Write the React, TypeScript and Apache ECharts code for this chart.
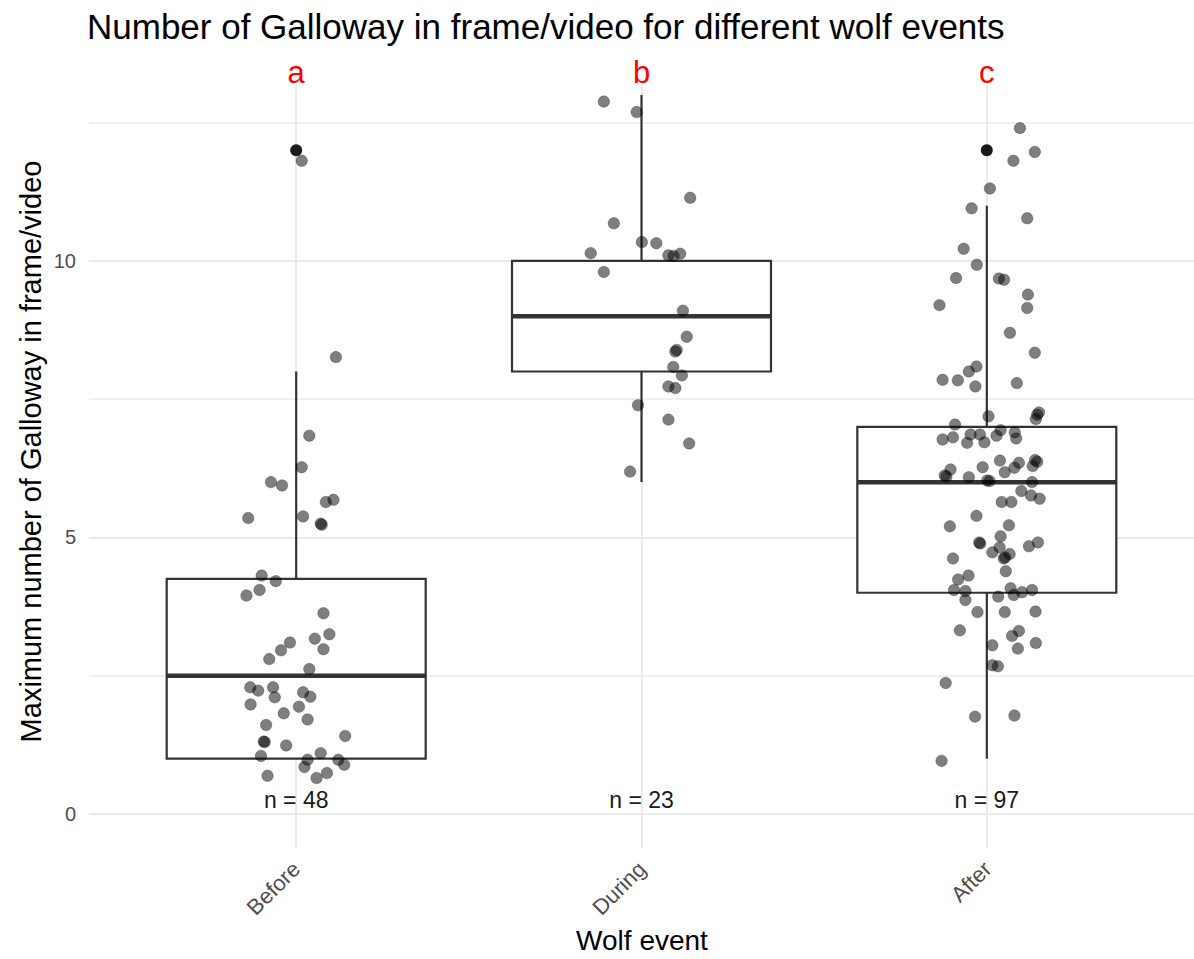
import React, { useEffect, useRef } from "react";
import * as echarts from "echarts";

const chartTitle = "Number of Galloway in frame/video for different wolf events";
const xTitle = "Wolf event";
const yTitle = "Maximum number of Galloway in frame/video";
const categories = ["Before", "During", "After"];
const sigLetters = ["a", "b", "c"];
const nLabels = ["n = 48", "n = 23", "n = 97"];

// boxplot statistics per category
const whiskerLow = [1, 6, 1];
const q1 = [1, 8, 4];
const median = [2.5, 9, 6];
const q3 = [4.25, 10, 7];
const whiskerHigh = [8, 13, 11];
// boxplot outliers: [category position, value]
const outliers = [
  [1, 12],
  [3, 12],
];

// jittered points: horizontal offset from category centre, value
const beforeOffsets = [
  0.016, 0.115, 0.038, 0.016, -0.073, -0.041, 0.108, 0.086, -0.139, 0.02, 0.074, 0.071,
  -0.1, -0.059, -0.106, -0.144, 0.079, 0.096, 0.054, -0.018, -0.044, 0.079, -0.078, 0.038,
  -0.133, -0.11, -0.067, -0.062, 0.02, 0.041, -0.132, 0.008, -0.036, 0.033, -0.087, -0.091,
  -0.094, -0.029, 0.142, 0.071, -0.102, 0.033, 0.024, 0.122, 0.139, 0.089, 0.059, -0.083,
];
const beforeValues = [
  11.81, 8.26, 6.84, 6.27, 6.0, 5.94, 5.68, 5.64, 5.35, 5.38, 5.23, 5.25,
  4.31, 4.21, 4.05, 3.95, 3.63, 3.25, 3.17, 3.1, 2.96, 2.98, 2.8, 2.62,
  2.29, 2.23, 2.29, 2.11, 2.2, 2.12, 1.98, 1.94, 1.82, 1.71, 1.61, 1.3,
  1.31, 1.24, 1.41, 1.1, 1.05, 0.98, 0.85, 0.98, 0.89, 0.74, 0.65, 0.69,
];
const duringOffsets = [
  -0.109, -0.014, 0.141, -0.08, 0.001, 0.043, -0.147, 0.078, 0.093, 0.112, -0.109, 0.12,
  0.131, 0.102, 0.098, 0.092, 0.117, 0.078, 0.098, -0.01, 0.078, 0.138, -0.033,
];
const duringValues = [
  12.88, 12.69, 11.14, 10.68, 10.34, 10.32, 10.14, 10.1, 10.09, 10.13, 9.8, 9.1,
  8.63, 8.39, 8.36, 8.08, 7.93, 7.73, 7.7, 7.39, 7.13, 6.7, 6.19,
];
const afterOffsets = [
  0.096, 0.139, 0.077, 0.009, -0.044, 0.117, -0.067, -0.029, -0.089, 0.035, 0.05, 0.119,
  0.117, -0.137, 0.067, 0.139, -0.03, -0.052, -0.128, -0.084, -0.033, 0.087, 0.005, 0.151,
  0.146, 0.142, -0.092, -0.128, -0.098, -0.057, -0.047, -0.02, -0.007, 0.028, 0.04, 0.081,
  0.085, -0.105, -0.117, -0.122, -0.052, -0.012, 0.008, 0.001, 0.038, 0.052, 0.08, 0.093,
  0.133, 0.146, 0.14, 0.131, 0.1, 0.128, 0.153, 0.043, 0.071, -0.03, -0.107, 0.064,
  0.04, -0.022, -0.019, 0.037, 0.016, 0.066, 0.053, 0.049, 0.122, 0.148, -0.098, 0.055,
  -0.053, -0.083, -0.095, -0.062, -0.062, 0.033, 0.069, 0.078, 0.102, 0.131, -0.027, 0.052,
  0.141, -0.078, 0.093, 0.073, 0.016, 0.09, 0.142, 0.016, 0.032, -0.119, -0.034, 0.08,
  -0.131,
];
const afterValues = [
  12.4, 11.97, 11.81, 11.31, 10.95, 10.77, 10.22, 9.93, 9.69, 9.68, 9.66, 9.39,
  9.15, 9.2, 8.7, 8.34, 8.09, 8.0, 7.85, 7.84, 7.73, 7.79, 7.19, 7.26,
  7.22, 7.14, 7.04, 6.77, 6.81, 6.71, 6.86, 6.86, 6.72, 6.84, 6.94, 6.9,
  6.79, 6.23, 6.1, 6.12, 6.09, 6.27, 6.02, 6.03, 6.39, 6.18, 6.26, 6.35,
  6.29, 6.37, 6.4, 6.0, 5.84, 5.76, 5.7, 5.64, 5.64, 5.39, 5.2, 5.22,
  5.02, 4.91, 4.89, 4.82, 4.73, 4.7, 4.64, 4.62, 4.84, 4.91, 4.62, 4.39,
  4.31, 4.24, 4.05, 4.03, 3.87, 3.93, 4.08, 3.96, 4.01, 4.05, 3.65, 3.65,
  3.66, 3.32, 3.31, 3.22, 3.05, 2.99, 3.09, 2.69, 2.67, 2.37, 1.76, 1.78,
  0.96,
];

const yMajorTicks = [0, 5, 10];
const yMinorTicks = [2.5, 7.5, 12.5];
const letterY = 13.4;
const nLabelY = 0.25;

const FONT = "'Liberation Sans', Arial, Helvetica, sans-serif";
const GRID_LEFT = 89;
const GRID_TOP = 85;
const GRID_W = 1106;
const GRID_H = 763;
const X_MIN = 0.4;
const X_MAX = 3.6;
const Y_MIN = -0.615;
const Y_MAX = 13.18;

export default function App() {
  const ref = useRef<HTMLDivElement>(null);

  useEffect(() => {
    document.body.style.margin = "0";
    if (!ref.current) return;
    const chart = echarts.init(ref.current, null, { renderer: "svg" });

    const jitter: number[][] = [];
    const groups = [
      [beforeOffsets, beforeValues],
      [duringOffsets, duringValues],
      [afterOffsets, afterValues],
    ];
    groups.forEach(([offs, vals], gi) => {
      vals.forEach((v, k) => jitter.push([gi + 1 + offs[k], v]));
    });

    const band = GRID_W / (X_MAX - X_MIN);
    const catLeft = GRID_LEFT + (0.5 - X_MIN) * band;
    const catWidth = 3 * band;

    const gridColor = "#ebebeb";
    const markData: any[] = [];
    yMajorTicks.forEach((v) =>
      markData.push({
        yAxis: v,
        lineStyle: { color: gridColor, width: 2, type: "solid" },
        label: {
          show: true,
          position: "start",
          distance: 13,
          formatter: String(v),
          color: "#4d4d4d",
          fontSize: 20,
          fontFamily: FONT,
        },
      })
    );
    yMinorTicks.forEach((v) =>
      markData.push({
        yAxis: v,
        lineStyle: { color: gridColor, width: 1.6, type: "solid" },
        label: { show: false },
      })
    );
    categories.forEach((_, i) =>
      markData.push({
        xAxis: i + 1,
        lineStyle: { color: gridColor, width: 2, type: "solid" },
        label: { show: false },
      })
    );

    const option: any = {
      animation: false,
      backgroundColor: "#ffffff",
      title: {
        text: chartTitle,
        left: 87,
        top: 9,
        padding: 0,
        textStyle: { fontFamily: FONT, fontSize: 35, fontWeight: "normal", color: "#000" },
      },
      grid: [
        { left: GRID_LEFT, top: GRID_TOP, width: GRID_W, height: GRID_H },
        { left: catLeft, top: GRID_TOP, width: catWidth, height: GRID_H },
      ],
      xAxis: [
        { type: "value", gridIndex: 0, min: X_MIN, max: X_MAX, show: false },
        {
          type: "category",
          gridIndex: 1,
          data: categories,
          axisLine: { show: false },
          axisTick: { show: false },
          splitLine: { show: false },
          axisLabel: {
            rotate: 45,
            fontSize: 22,
            color: "#4d4d4d",
            fontFamily: FONT,
            margin: 20,
            padding: [38, 0, 0, 0],
          },
          name: xTitle,
          nameLocation: "middle",
          nameGap: 80,
          nameTextStyle: { fontSize: 28, color: "#000", fontFamily: FONT },
        },
      ],
      yAxis: [
        {
          type: "value",
          gridIndex: 0,
          min: Y_MIN,
          max: Y_MAX,
          axisLine: { show: false },
          axisTick: { show: false },
          axisLabel: { show: false },
          splitLine: { show: false },
          name: yTitle,
          nameLocation: "middle",
          nameRotate: 90,
          nameGap: 44,
          nameTextStyle: { fontSize: 29, color: "#000", fontFamily: FONT, padding: [0, 0, 0, 30] },
        },
        { type: "value", gridIndex: 1, min: Y_MIN, max: Y_MAX, show: false },
      ],
      series: [
        {
          type: "scatter",
          xAxisIndex: 0,
          yAxisIndex: 0,
          data: [[2, 5]],
          symbolSize: 0,
          silent: true,
          z: 0,
          itemStyle: { opacity: 0 },
          markLine: {
            silent: true,
            symbol: "none",
            animation: false,
            z: 0,
            data: markData,
          },
        },
        {
          type: "custom",
          xAxisIndex: 0,
          yAxisIndex: 0,
          z: 2,
          clip: false,
          data: categories.map((_, i) => [i + 1, whiskerLow[i], q1[i], median[i], q3[i], whiskerHigh[i]]),
          renderItem: (params: any, api: any) => {
            const x = api.value(0);
            const half = 0.375;
            const bl = api.coord([x - half, api.value(2)]);
            const tr = api.coord([x + half, api.value(4)]);
            const wl = api.coord([x, api.value(1)]);
            const wh = api.coord([x, api.value(5)]);
            const md = api.coord([x, api.value(3)]);
            const left = bl[0];
            const right = tr[0];
            const top = tr[1];
            const bottom = bl[1];
            const st = { stroke: "#333333", lineWidth: 2.2, fill: null };
            const children: any[] = [];
            if (wh[1] < top) children.push({ type: "line", shape: { x1: wh[0], y1: wh[1], x2: wh[0], y2: top }, style: st });
            if (wl[1] > bottom) children.push({ type: "line", shape: { x1: wl[0], y1: bottom, x2: wl[0], y2: wl[1] }, style: st });
            children.push({
              type: "rect",
              shape: { x: left, y: top, width: right - left, height: bottom - top },
              style: { stroke: "#333333", lineWidth: 2.2, fill: "#ffffff" },
            });
            children.push({
              type: "line",
              shape: { x1: left, y1: md[1], x2: right, y2: md[1] },
              style: { stroke: "#333333", lineWidth: 4.5 },
            });
            return { type: "group", children };
          },
        },
        {
          type: "scatter",
          xAxisIndex: 0,
          yAxisIndex: 0,
          z: 3,
          data: outliers,
          symbol: "circle",
          symbolSize: 12,
          itemStyle: { color: "#1a1a1a", opacity: 1 },
        },
        {
          type: "scatter",
          xAxisIndex: 0,
          yAxisIndex: 0,
          z: 4,
          data: jitter,
          symbol: "circle",
          symbolSize: 11.5,
          itemStyle: {
            color: "rgba(0,0,0,0.5)",
            borderColor: "rgba(0,0,0,0.25)",
            borderWidth: 1,
            opacity: 1,
          },
        },
        {
          type: "custom",
          xAxisIndex: 0,
          yAxisIndex: 0,
          z: 5,
          clip: false,
          data: categories.map((_, i) => [i + 1, letterY]),
          renderItem: (params: any, api: any) => {
            const p = api.coord([api.value(0), api.value(1)]);
            return {
              type: "text",
              x: p[0],
              y: p[1],
              style: {
                text: sigLetters[params.dataIndex],
                fill: "#ff0000",
                fontSize: 31,
                fontFamily: FONT,
                align: "center",
                verticalAlign: "middle",
              },
            };
          },
        },
        {
          type: "custom",
          xAxisIndex: 0,
          yAxisIndex: 0,
          z: 5,
          clip: false,
          data: categories.map((_, i) => [i + 1, nLabelY]),
          renderItem: (params: any, api: any) => {
            const p = api.coord([api.value(0), api.value(1)]);
            return {
              type: "text",
              x: p[0],
              y: p[1],
              style: {
                text: nLabels[params.dataIndex],
                fill: "#1a1a1a",
                fontSize: 23,
                fontFamily: FONT,
                align: "center",
                verticalAlign: "middle",
              },
            };
          },
        },
      ],
    };

    chart.setOption(option);
    return () => chart.dispose();
  }, []);

  return <div ref={ref} style={{ width: 1194, height: 959 }} />;
}
